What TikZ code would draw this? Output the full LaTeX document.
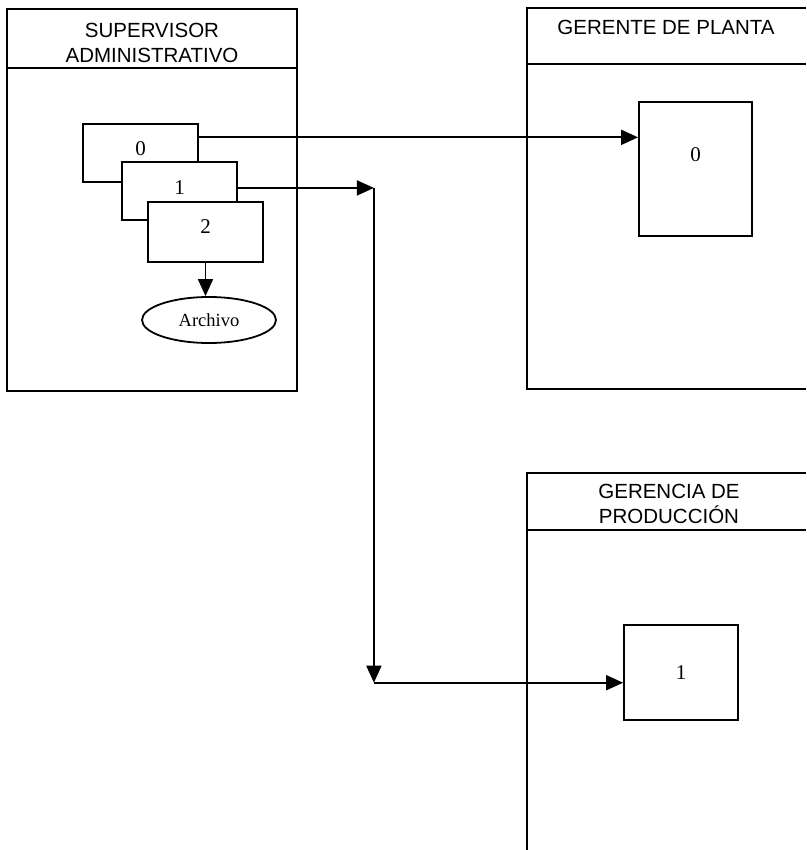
\documentclass[tikz,border=0pt]{standalone}
\usepackage{fontspec}
\setmainfont{Liberation Serif}
\newfontfamily\laneFont{Liberation Sans}
\usetikzlibrary{arrows.meta,shapes.geometric}

\begin{document}
\begin{tikzpicture}[x=1pt,y=-1pt,line width=1.8pt,
    laneTitle/.style={align=center,font=\laneFont\fontsize{20.5}{25}\selectfont},
    docBox/.style={draw,fill=white,inner sep=0pt,minimum width=115pt,minimum height=58pt,
      font=\fontsize{21}{24}\selectfont},
    flowArrow/.style={-{Triangle[length=17pt,width=15pt]}}]
  \useasboundingbox (0,0) rectangle (806,850);

  \draw (7,9) rectangle (297,391);
  \draw (7,68) -- (297,68);
  \draw (806,8) -- (527,8) -- (527,389) -- (806,389);
  \draw (527,64) -- (806,64);
  \draw (806,473) -- (527,473) -- (527,850);
  \draw (527,530) -- (806,530);

  \node[laneTitle] (supTitle) at (152,43) {SUPERVISOR\\ADMINISTRATIVO};
  \node[laneTitle] (gerTitle) at (666,27) {GERENTE DE PLANTA};
  \node[laneTitle] (prodTitle) at (669,504) {GERENCIA DE\\PRODUCCIÓN};

  \node[docBox] (b0) at (140.5,153) {\raisebox{8pt}{0}};
  \node[docBox] (b1) at (179.5,191) {\raisebox{6pt}{1}};
  \node[docBox,minimum height=60pt] (b2) at (205.5,232) {\raisebox{10pt}{2}};
  \node[draw,ellipse,inner sep=0pt,minimum width=134pt,minimum height=46pt,
    font=\fontsize{18.5}{21}\selectfont] (arch) at (209,320) {Archivo};

  \node[docBox,minimum width=113pt,minimum height=134pt] (gp0) at (695.5,169) {\raisebox{28pt}{0}};
  \node[docBox,minimum width=114pt,minimum height=95pt] (pr1) at (681,672.5) {\raisebox{-5pt}{1}};

  \draw[flowArrow] (b0.15) -- (b0.15 -| gp0.west);
  \path (b1.3) ++(136,0) coordinate (turnTop);
  \coordinate (turnLow) at (turnTop |- pr1.190);
  \draw[flowArrow] (b1.3) -- (turnTop);
  \draw[flowArrow] (turnTop) -- (turnLow);
  \draw[flowArrow] (turnLow) -- (pr1.190);
  \draw[flowArrow] (b2.south) -- (b2.south |- arch.north);
\end{tikzpicture}
\end{document}
